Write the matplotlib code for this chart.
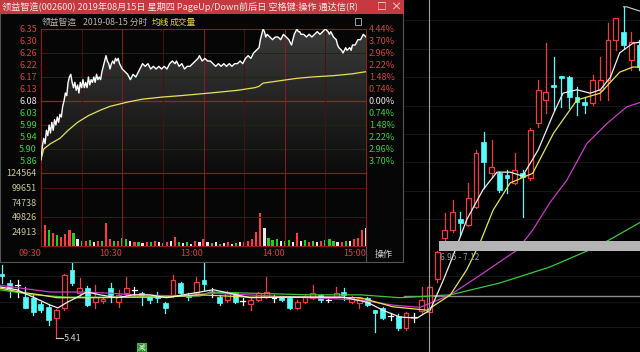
import matplotlib
matplotlib.use('Agg')
import matplotlib.pyplot as plt
import numpy as np
from matplotlib.patches import Rectangle, Polygon
from matplotlib.colors import LinearSegmentedColormap

plt.rcParams['font.family'] = ['Noto Sans CJK SC', 'DejaVu Sans']

# ---------------- data ----------------
# daily candles (background K-line), index 0..82
k_open = [6.53, 6.38, 6.34, 6.13, 6.12, 6.01, 5.96, 5.76, 5.94, 6.61, 6.20, 6.29, 6.04, 6.06, 6.29, 6.04,
          6.20, 6.26, 6.20, 6.13, 6.15, 6.03, 6.17, 6.38, 6.17, 6.20, 6.43, 6.22, 6.13, 6.08, 6.20, 6.06,
          6.01, 6.08, 6.13, 6.12, 6.13, 6.12, 5.94, 6.04, 6.12, 6.17, 6.08, 6.13, 6.22, 6.04, 6.03, 6.12,
          5.90, 5.94, 5.80, 5.80, 5.59, 5.78, 5.88, 5.86, 6.45, 7.17, 7.31, 7.51, 7.40, 7.72, 8.86, 8.31,
          8.31, 8.28, 8.14, 8.31, 8.23, 9.19, 9.60, 9.86, 10.02, 10.00, 9.65, 9.56, 9.55, 9.78, 9.95, 10.66,
          10.80, 10.30, 10.57]
k_high = [6.70, 6.43, 6.43, 6.31, 6.17, 6.04, 5.99, 5.92, 6.53, 6.78, 6.47, 6.33, 6.34, 6.13, 6.38, 6.26,
          6.48, 6.31, 6.22, 6.15, 6.22, 6.04, 6.52, 6.40, 6.20, 6.48, 6.78, 6.29, 6.17, 6.24, 6.22, 6.12,
          6.12, 6.22, 6.48, 6.17, 6.15, 6.13, 6.08, 6.17, 6.34, 6.19, 6.12, 6.31, 6.29, 6.15, 6.13, 6.13,
          5.90, 5.96, 5.85, 5.83, 5.87, 5.85, 6.30, 6.35, 6.95, 7.61, 7.84, 7.63, 8.14, 8.72, 9.04, 8.90,
          8.33, 8.37, 8.67, 8.37, 9.11, 9.95, 10.60, 10.36, 10.02, 10.02, 9.83, 9.65, 10.04, 10.36, 10.95, 11.04,
          11.24, 10.80, 10.66]
k_low = [6.38, 6.13, 6.13, 5.94, 5.81, 5.87, 5.64, 5.41, 5.91, 6.34, 6.13, 5.97, 5.94, 6.03, 6.04, 5.96,
         6.17, 6.17, 5.99, 6.03, 6.04, 5.85, 6.13, 6.17, 6.08, 6.17, 6.26, 6.13, 5.99, 6.04, 6.03, 5.99,
         5.90, 6.06, 6.12, 6.04, 6.06, 5.92, 5.92, 6.03, 6.10, 6.04, 6.04, 6.12, 6.08, 6.03, 5.94, 5.97,
         5.52, 5.75, 5.73, 5.55, 5.55, 5.69, 5.85, 5.86, 6.40, 7.12, 7.28, 7.22, 7.38, 7.70, 8.05, 8.24,
         7.98, 7.96, 8.12, 7.54, 8.19, 9.12, 9.37, 9.42, 9.48, 9.46, 9.34, 9.37, 9.51, 9.60, 9.60, 10.48,
         10.51, 10.13, 10.13]
k_close = [6.51, 6.29, 6.34, 5.94, 5.87, 5.90, 5.73, 5.90, 6.52, 6.38, 6.29, 5.99, 6.13, 6.10, 6.17, 6.17,
           6.29, 6.26, 6.17, 6.08, 6.12, 5.94, 6.43, 6.20, 6.13, 6.40, 6.36, 6.22, 6.03, 6.20, 6.04, 6.06,
           6.08, 6.20, 6.22, 6.12, 6.08, 5.94, 6.04, 6.13, 6.20, 6.08, 6.08, 6.20, 6.17, 6.13, 6.12, 5.99,
           5.85, 5.76, 5.80, 5.59, 5.85, 5.78, 6.08, 6.30, 6.93, 7.31, 7.63, 7.43, 7.87, 8.67, 8.51, 8.42,
           8.02, 8.23, 8.37, 8.24, 9.07, 9.78, 9.74, 9.83, 9.99, 9.65, 9.56, 9.51, 9.95, 9.95, 10.66, 11.04,
           10.57, 10.62, 10.18]

# moving averages (candle index, price)
ma5_i = [-0.3, 1.9, 4.0, 6.2, 7.2, 8.4, 9.7, 10.9, 12.6, 14.8, 16.9, 19.0, 21.2, 23.3, 25.5, 27.2, 31.9,
         37.0, 43.9, 47.0, 49.0, 51.2, 53.4, 54.7, 55.1, 56.8, 58.0, 59.8, 61.9, 63.7, 65.4, 67.0, 69.0,
         71.0, 72.2, 74.0, 75.7, 77.0, 78.3, 79.5, 81.2, 82.2]
ma5_v = [6.31, 6.26, 6.13, 5.99, 5.94, 6.04, 6.13, 6.22, 6.17, 6.12, 6.17, 6.17, 6.12, 6.17, 6.22, 6.26,
         6.12, 6.13, 6.13, 6.04, 5.90, 5.78, 5.76, 5.87, 5.90, 6.43, 6.84, 7.49, 8.02, 8.33, 8.33, 8.26,
         8.72, 9.37, 9.72, 9.78, 9.72, 9.78, 10.00, 10.43, 10.60, 10.62]
ma10_i = [-0.3, 2.3, 4.9, 7.1, 12.6, 16.9, 21.2, 25.5, 31.9, 39.6, 46.1, 50.3, 54.7, 57.7, 59.8, 61.5,
          63.2, 65.4, 68.3, 71.0, 74.0, 77.0, 79.5, 81.2, 82.2]
ma10_v = [6.29, 6.22, 6.17, 6.12, 6.12, 6.13, 6.13, 6.17, 6.13, 6.13, 6.12, 5.96, 5.90, 6.17, 6.61, 7.08,
          7.66, 8.14, 8.31, 9.02, 9.60, 9.72, 10.09, 10.18, 10.18]
ma20_i = [-0.3, 2.3, 6.2, 10.4, 13.9, 16.9, 23.3, 26.8, 39.6, 46.1, 50.3, 53.8, 57.7, 61.9, 66.3, 68.3,
          70.5, 72.7, 75.3, 77.9, 80.4, 82.2]
ma20_v = [6.34, 6.29, 6.22, 6.22, 6.20, 6.17, 6.15, 6.20, 6.12, 6.08, 5.99, 5.95, 6.17, 6.55, 6.96, 7.31,
          7.79, 8.19, 8.84, 9.19, 9.48, 9.56]
ma60_i = [-0.3, 4.0, 8.4, 16.9, 25.5, 26.8, 39.6, 46.1, 51.2, 55.1, 57.7, 64.1, 70.5, 75.6, 78.2, 82.2]
ma60_v = [6.26, 6.17, 6.13, 6.13, 6.15, 6.22, 6.17, 6.17, 6.12, 6.15, 6.17, 6.38, 6.66, 6.96, 7.14, 7.45]

gap_low, gap_high = 6.95, 7.12
low_mark = 5.41
high_mark = 11.24

# intraday (minute index 0..240, price)
prev_close = 6.08
t_min = [0, 1, 2, 3, 4, 5, 6, 7, 8, 9, 10, 11, 12, 13, 14, 15, 16, 17, 18, 19, 20, 21, 22, 23, 24, 25,
         26, 27, 28, 29, 30, 31, 32, 33, 34, 35, 36, 37, 38, 39, 40, 41, 42, 43, 44, 45, 46, 47, 48, 49,
         50, 51, 52, 53, 54, 55, 56, 57, 58, 59, 60, 62, 64, 66, 67, 68, 70, 72, 74, 75, 77, 79, 81, 83,
         85, 87, 89, 91, 93, 95, 97, 99, 100, 102, 104, 106, 108, 110, 112, 114, 116, 117, 119, 121, 123,
         125, 127, 129, 131, 133, 135, 137, 139, 141, 143, 145, 147, 149, 151, 153, 155, 157, 159, 161,
         162, 163, 164, 165, 166, 167, 169, 171, 173, 175, 177, 179, 181, 183, 185, 186, 187, 188, 189,
         190, 191, 192, 194, 196, 198, 200, 202, 204, 206, 208, 210, 212, 213, 214, 216, 218, 219, 220,
         222, 223, 224, 225, 226, 228, 229, 230, 232, 233, 234, 236, 237, 238, 240]
t_price = [5.86, 5.91, 5.94, 5.92, 5.97, 5.95, 5.99, 5.96, 6.00, 5.97, 6.01, 5.99, 6.02, 6.00, 6.03, 6.02,
           6.06, 6.08, 6.11, 6.10, 6.15, 6.17, 6.18, 6.15, 6.13, 6.15, 6.12, 6.14, 6.11, 6.15, 6.13, 6.16,
           6.13, 6.15, 6.13, 6.17, 6.14, 6.16, 6.15, 6.17, 6.15, 6.18, 6.16, 6.17, 6.16, 6.19, 6.21, 6.23,
           6.25, 6.23, 6.22, 6.20, 6.22, 6.23, 6.22, 6.24, 6.23, 6.24, 6.22, 6.21, 6.20, 6.19, 6.18, 6.16,
           6.17, 6.18, 6.17, 6.19, 6.21, 6.22, 6.21, 6.22, 6.20, 6.21, 6.20, 6.21, 6.20, 6.21, 6.20, 6.22,
           6.23, 6.22, 6.23, 6.21, 6.22, 6.20, 6.21, 6.21, 6.22, 6.23, 6.24, 6.25, 6.23, 6.24, 6.23, 6.23,
           6.22, 6.21, 6.22, 6.21, 6.22, 6.21, 6.22, 6.21, 6.22, 6.22, 6.23, 6.22, 6.24, 6.25, 6.24, 6.26,
           6.27, 6.28, 6.31, 6.33, 6.35, 6.34, 6.32, 6.33, 6.32, 6.31, 6.32, 6.32, 6.31, 6.33, 6.32, 6.31,
           6.29, 6.31, 6.33, 6.34, 6.35, 6.34, 6.34, 6.33, 6.33, 6.32, 6.33, 6.32, 6.33, 6.34, 6.33, 6.34,
           6.35, 6.34, 6.33, 6.34, 6.32, 6.31, 6.29, 6.28, 6.27, 6.26, 6.27, 6.28, 6.27, 6.28, 6.27, 6.29,
           6.29, 6.30, 6.31, 6.31, 6.32, 6.33, 6.32]
avg_min = [0, 2, 7, 14, 20, 27, 35, 44, 51, 64, 75, 90, 103, 125, 145, 158, 161, 164, 175, 189, 200, 216, 230, 240]
avg_price = [5.86, 5.90, 5.92, 5.94, 5.97, 6.00, 6.025, 6.046, 6.06, 6.076, 6.087, 6.095, 6.10, 6.11, 6.12,
             6.13, 6.135, 6.147, 6.155, 6.165, 6.17, 6.175, 6.182, 6.19]

vol_min = list(range(0, 241, 3))
vol = [118000, 36000, 28000, 22000, 18000, 15000, 20000, 27000, 22000, 12000, 9000, 8000, 10000, 7000,
       9000, 8000, 39000, 12000, 9000, 8000, 14000, 12000, 8000, 6000, 7000, 5000, 6000, 7000, 9000, 6000,
       5000, 7000, 8000, 15000, 6000, 5000, 7000, 4000, 8000, 6000, 12000, 7000, 5000, 6000, 4000, 5000,
       6000, 4000, 5000, 7000, 6000, 9000, 12000, 24000, 56000, 30000, 14000, 10000, 12000, 9000, 8000,
       10000, 7000, 22000, 8000, 10000, 6000, 9000, 7000, 8000, 10000, 12000, 9000, 7000, 6000, 9000,
       8000, 12000, 14000, 28000, 30000]
vol_dir = ['g', 'r', 'g', 'r', 'g', 'r', 'r', 'r', 'g', 'w', 'g', 'r', 'g', 'w', 'r', 'g', 'r', 'r', 'g',
           'r', 'g', 'g', 'w', 'r', 'g', 'w', 'r', 'g', 'r', 'w', 'g', 'r', 'w', 'r', 'g', 'w', 'g', 'w',
           'r', 'w', 'r', 'w', 'g', 'w', 'g', 'w', 'r', 'w', 'g', 'w', 'r', 'r', 'r', 'r', 'r', 'w', 'g',
           'g', 'g', 'w', 'g', 'g', 'w', 'r', 'w', 'g', 'r', 'g', 'w', 'r', 'g', 'g', 'g', 'w', 'r', 'g',
           'w', 'r', 'r', 'r', 'w']

pct_levels = [-5, -4, -3, -2, -1, 0, 1, 2, 3, 4, 5, 6]
price_labels = ['5.86', '5.90', '5.94', '5.99', '6.03', '6.08', '6.13', '6.17', '6.22', '6.26', '6.30', '6.35']
pct_labels = ['3.70%', '2.96%', '2.22%', '1.48%', '0.74%', '0.00%', '0.74%', '1.48%', '2.22%', '2.96%', '3.70%', '4.44%']
vol_ticks = [24913, 49826, 74738, 99651, 124564]
time_ticks = [0, 60, 120, 180, 240]
time_labels = ['09:30', '10:30', '13:00', '14:00', '15:00']

title = '领益智造(002600) 2019年08月15日 星期四 PageUp/Down前后日 空格键:操作 通达信(R)'

# ---------------- colours ----------------
RED = '#f03c3c'
CYAN = '#54fcfc'
W, H = 640, 352

fig = plt.figure(figsize=(6.4, 3.52), dpi=100)
fig.patch.set_facecolor('black')

# ---------------- background K-line ----------------
axk = fig.add_axes([0, 0, 1, 1], zorder=0)
axk.set_facecolor('black')
axk.set_xlim(-0.26, 82.11)
axk.set_ylim(5.164, 11.36)
axk.axis('off')

for lvl in [5.6, 6.05, 6.5, 7.5, 8.0, 8.5, 9.0, 9.5, 10.0, 10.5, 11.0]:
    axk.axhline(lvl, color='#1a1a1a', lw=0.6, zorder=0)

bw = 0.62
for i, (o, h, l, c) in enumerate(zip(k_open, k_high, k_low, k_close)):
    if c > o:
        axk.plot([i, i], [c, h], color=RED, lw=0.9, zorder=3)
        axk.plot([i, i], [l, o], color=RED, lw=0.9, zorder=3)
        axk.add_patch(Rectangle((i - bw / 2, o), bw, c - o, facecolor='black', edgecolor=RED, lw=0.9, zorder=3))
    elif c < o:
        axk.plot([i, i], [l, h], color=CYAN, lw=0.9, zorder=3)
        axk.add_patch(Rectangle((i - bw / 2, c), bw, o - c, facecolor=CYAN, edgecolor=CYAN, lw=0.5, zorder=3))
    else:
        axk.plot([i, i], [l, h], color='white', lw=0.9, zorder=3)
        axk.plot([i - bw / 2, i + bw / 2], [c, c], color='white', lw=0.9, zorder=3)

axk.plot(ma60_i, ma60_v, color='#3cc83c', lw=0.9, zorder=4)
axk.plot(ma20_i, ma20_v, color='#c83cc8', lw=0.9, zorder=4)
axk.plot(ma10_i, ma10_v, color='#e6e650', lw=0.9, zorder=4)
axk.plot(ma5_i, ma5_v, color='#f0f0f0', lw=0.9, zorder=4)

axk.fill_between([56.25, 83], gap_low, gap_high, color='#b4b4b4', lw=0, zorder=5)
axk.text(56.35, 6.82, f'{gap_low:.2f} - {gap_high:.2f}', color='#9a9a9a', fontsize=6, va='center', zorder=5)
axk.plot([51.8, 83], [6.15, 6.15], color='#8c8c8c', lw=1.0, zorder=2)
axk.axvline(55, color='#a0a0a0', lw=0.8, zorder=6)

lo_i = k_low.index(low_mark)
axk.plot([lo_i, lo_i + 0.8], [low_mark, low_mark], color='#d0d0d0', lw=0.8, zorder=5)
axk.text(lo_i + 0.9, low_mark, f'{low_mark:.2f}', color='#d0d0d0', fontsize=6.5, va='center', zorder=5)
hi_i = k_high.index(high_mark)
axk.plot([hi_i, hi_i + 0.4, hi_i + 2.2], [high_mark, high_mark, high_mark - 0.08], color='#d0d0d0', lw=0.8, zorder=5)
axk.text(17.9, 5.23, '减', color='white', fontsize=5.5, va='center', ha='center', zorder=5,
         bbox=dict(boxstyle='square,pad=0.1', facecolor='#1e8c1e', edgecolor='#50d050', lw=0.6))

# ---------------- popup window (pixel space) ----------------
axo = fig.add_axes([0, 0, 1, 1], zorder=1)
axo.set_xlim(0, W)
axo.set_ylim(H, 0)
axo.axis('off')
axo.patch.set_alpha(0)
axo.add_patch(Rectangle((0, 0), 403, 262, facecolor='#060606', edgecolor='#555555', lw=0.8))
axo.add_patch(Rectangle((0, 0), 403.5, 14, facecolor='#c43a40', edgecolor='none'))
axo.text(2, 7, title, color='#f4e8e8', fontsize=6.6, va='center', ha='left')
axo.text(382, 7, '□', color='#f4e8e8', fontsize=7, va='center', ha='center')
axo.text(396, 7, '×', color='#f4e8e8', fontsize=8, va='center', ha='center')
axo.text(42, 22, '领益智造', color='#b4b4b4', fontsize=6.3, va='center')
axo.text(83, 22, '2019-08-15 分时', color='#b4b4b4', fontsize=6.3, va='center')
axo.text(152, 22, '均线', color='#e6e650', fontsize=6.3, va='center')
axo.text(170, 22, '成交量', color='#e6c850', fontsize=6.3, va='center')
axo.add_patch(Rectangle((355, 18), 6, 7, facecolor='none', edgecolor='#a0a0a0', lw=0.7))
axo.plot([366, 366], [246, 262], color='#555555', lw=0.8)
axo.text(384, 254, '操作', color='#d0d0d0', fontsize=6.5, va='center', ha='center')


def frac(x0, y0, x1, y1):
    return [x0 / W, 1 - y1 / H, (x1 - x0) / W, (y1 - y0) / H]


GRID_B = '#8c1c1c'
GRID_D = '#4a1212'

# ---------------- intraday price panel ----------------
axp = fig.add_axes(frac(41, 29, 366, 173), zorder=2)
axp.set_facecolor('none')
lo, hi = prev_close * (1 - 0.0444), prev_close * (1 + 0.0444)
axp.set_xlim(0, 240)
axp.set_ylim(lo, hi)
for s in axp.spines.values():
    s.set_color(GRID_B)
    s.set_linewidth(0.8)

levels = [prev_close * (1 + 0.0074 * k) for k in pct_levels]
for k, lv in zip(pct_levels, levels):
    if k == 0:
        axp.axhline(lv, color='#a02020', lw=0.9)
    elif k % 2 == 0:
        axp.axhline(lv, color=GRID_D, lw=0.7)
for m in range(30, 240, 30):
    axp.axvline(m, color=GRID_B if m % 60 == 0 or m == 120 else GRID_D, lw=0.7)

cmap = LinearSegmentedColormap.from_list('g', ['#0c0c0c', '#3a3a3a'])
grad = np.linspace(1, 0, 256).reshape(-1, 1)
im = axp.imshow(grad, extent=(0, 240, lo, hi), origin='upper', cmap=cmap, aspect='auto', zorder=1)
poly = Polygon(list(zip(t_min, t_price)) + [(240, lo), (0, lo)], closed=True, transform=axp.transData)
im.set_clip_path(poly)
axp.plot(t_min, t_price, color='white', lw=1.0, zorder=3)
axp.plot(avg_min, avg_price, color='#e6e060', lw=0.9, zorder=3)

axp.set_xticks([])
axp.set_yticks(levels)
axp.set_yticklabels(price_labels)
axp.tick_params(axis='y', length=0, pad=3, labelsize=6.5)
for k, t in zip(pct_levels, axp.get_yticklabels()):
    t.set_color('#d84040' if k > 0 else ('#e8e8e8' if k == 0 else '#3cd03c'))

axr = axp.twinx()
axr.set_ylim(lo, hi)
axr.set_yticks(levels)
axr.set_yticklabels(pct_labels)
axr.tick_params(axis='y', length=0, pad=2, labelsize=6.5)
for s in axr.spines.values():
    s.set_visible(False)
for k, t in zip(pct_levels, axr.get_yticklabels()):
    t.set_color('#d84040' if k > 0 else ('#e8e8e8' if k == 0 else '#3cd03c'))

# ---------------- volume panel ----------------
axv = fig.add_axes(frac(41, 173, 366, 246), zorder=2)
axv.set_facecolor('none')
axv.set_xlim(0, 240)
axv.set_ylim(0, vol_ticks[-1])
for s in axv.spines.values():
    s.set_color(GRID_B)
    s.set_linewidth(0.8)
for v in vol_ticks[1:4:2]:
    axv.axhline(v, color=GRID_D, lw=0.7)
for m in range(30, 240, 30):
    axv.axvline(m, color=GRID_B if m % 60 == 0 or m == 120 else GRID_D, lw=0.7)
cmapd = {'r': '#ff3c3c', 'g': '#20d020', 'w': '#e8e8e8'}
axv.bar(vol_min, vol, width=1.6, color=[cmapd[d] for d in vol_dir], lw=0)
axv.set_yticks(vol_ticks)
axv.set_yticklabels([str(v) for v in vol_ticks])
axv.tick_params(axis='y', length=0, pad=3, labelsize=6.5, labelcolor='#c8c896')
axv.set_xticks(time_ticks)
axv.set_xticklabels(time_labels, ha='right')
axv.tick_params(axis='x', length=0, pad=2, labelsize=6.5, labelcolor='#d04040')

fig.savefig('out.png', dpi=100, facecolor='black')
